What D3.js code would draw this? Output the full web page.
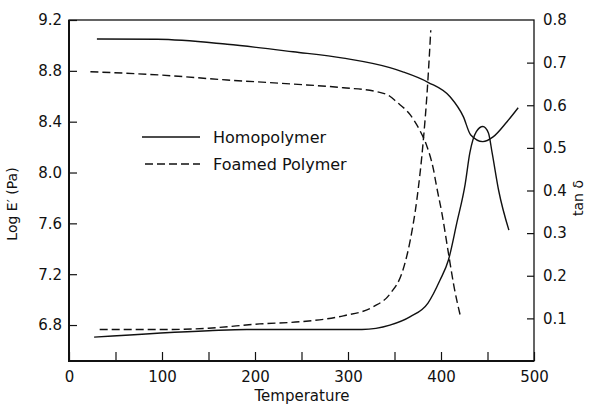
<!DOCTYPE html>
<html>
<head>
<meta charset="utf-8">
<script src="https://cdn.jsdelivr.net/npm/d3@7"></script>
<style>
  body { margin: 0; background: #fff; }
  text { font-family: "DejaVu Sans", sans-serif; fill: #111; }
</style>
</head>
<body>
<div id="chart"></div>
<script>
// valores
const homoT_E = [30, 95, 170, 241, 295, 345, 359, 386, 410, 424, 432, 445, 456, 471, 483];
const homoLogE = [9.05, 9.048, 9.009, 8.95, 8.90, 8.825, 8.792, 8.71, 8.594, 8.44, 8.295, 8.243, 8.28, 8.40, 8.51];

const homoT_tan = [27, 150, 191, 250, 315, 345, 367, 386, 399, 408, 417, 426, 431, 438, 445, 451, 455, 462, 473];
const homoTan = [0.056, 0.071, 0.074, 0.074, 0.074, 0.084, 0.104, 0.136, 0.19, 0.237, 0.324, 0.415, 0.488, 0.538, 0.55, 0.535, 0.488, 0.40, 0.307];

const foamT_E = [23, 98, 170, 241, 295, 331, 345, 352, 367, 377, 385, 392, 395, 401, 408, 414, 421];
const foamLogE = [8.793, 8.767, 8.728, 8.696, 8.667, 8.636, 8.60, 8.557, 8.453, 8.335, 8.203, 8.02, 7.90, 7.679, 7.365, 7.103, 6.866];

const foamT_tan = [33, 109, 150, 205, 248, 295, 327, 345, 359, 367, 374, 381, 385, 389];
const foamTan = [0.074, 0.074, 0.077, 0.087, 0.092, 0.106, 0.127, 0.157, 0.213, 0.284, 0.378, 0.518, 0.628, 0.776];

const xTicks = [0, 50, 100, 150, 200, 250, 300, 350, 400, 450, 500];
const leftTicks = [6.8, 7.2, 7.6, 8.0, 8.4, 8.8, 9.2];
const rightTicks = [0.1, 0.2, 0.3, 0.4, 0.5, 0.6, 0.7, 0.8];
const legendNames = ["Homopolymer", "Foamed Polymer"];

const largura = 589, altura = 405;
const esq = 69, dir = 534, topo = 20, base = 361;

const svg = d3.select("#chart").append("svg")
    .attr("width", largura)
    .attr("height", altura);

const x = d3.scaleLinear().domain([0, 500]).range([esq, dir]);
const yE = d3.scaleLinear().domain([6.517, 9.2]).range([base, topo]);
const yT = d3.scaleLinear().domain([0, 0.8]).range([base, topo]);

// eixos (ticks para dentro)
const gx = svg.append("g")
    .attr("transform", `translate(0,${base})`)
    .call(d3.axisBottom(x).tickValues(xTicks).tickSizeInner(-9).tickSizeOuter(0)
      .tickPadding(10).tickFormat(d => d % 100 === 0 ? d : ""));

const gl = svg.append("g")
    .attr("transform", `translate(${esq},0)`)
    .call(d3.axisLeft(yE).tickValues(leftTicks).tickSizeInner(-8).tickSizeOuter(0)
      .tickPadding(7).tickFormat(d3.format(".1f")));

const gr = svg.append("g")
    .attr("transform", `translate(${dir},0)`)
    .call(d3.axisRight(yT).tickValues(rightTicks).tickSizeInner(-7).tickSizeOuter(0)
      .tickPadding(9).tickFormat(d3.format(".1f")));

[gx, gl, gr].forEach(g => {
  g.select(".domain").remove();
  g.selectAll("line").attr("stroke", "#111").attr("stroke-width", 1.2);
  g.selectAll("text").attr("font-size", 15).attr("font-family", "DejaVu Sans").attr("fill", "#111");
});
gr.selectAll(".tick").filter(d => d === 0.8).select("line").remove();

// moldura
svg.append("rect")
    .attr("x", esq).attr("y", topo)
    .attr("width", dir - esq).attr("height", base - topo)
    .attr("fill", "none").attr("stroke", "#111").attr("stroke-width", 1.3);
svg.append("line").attr("x1", esq).attr("x2", esq).attr("y1", topo).attr("y2", base + 1)
    .attr("stroke", "#111").attr("stroke-width", 2);
svg.append("line").attr("x1", esq).attr("x2", dir).attr("y1", base).attr("y2", base)
    .attr("stroke", "#111").attr("stroke-width", 2);

// curvas
const linhaE = d3.line().x(d => x(d[0])).y(d => yE(d[1])).curve(d3.curveMonotoneX);
const linhaT = d3.line().x(d => x(d[0])).y(d => yT(d[1])).curve(d3.curveMonotoneX);
const tracejado = "8,4";

function desenha(dados, gerador, dash) {
  svg.append("path")
      .datum(dados)
      .attr("d", gerador)
      .attr("fill", "none")
      .attr("stroke", "#111")
      .attr("stroke-width", 1.4)
      .attr("stroke-dasharray", dash);
}

desenha(d3.zip(homoT_E, homoLogE), linhaE, null);
desenha(d3.zip(homoT_tan, homoTan), linhaT, null);
desenha(d3.zip(foamT_E, foamLogE), linhaE, tracejado);
desenha(d3.zip(foamT_tan, foamTan), linhaT, tracejado);

// legenda
const leg = svg.append("g");
legendNames.forEach((nome, i) => {
  const yy = 137 + i * 27;
  leg.append("line")
      .attr("x1", i ? 145 : 142).attr("x2", 200)
      .attr("y1", yy).attr("y2", yy)
      .attr("stroke", "#111").attr("stroke-width", 1.4)
      .attr("stroke-dasharray", i ? tracejado : null);
  leg.append("text")
      .attr("x", 213).attr("y", yy)
      .attr("dy", "0.36em")
      .attr("font-size", 16)
      .text(nome);
});

// títulos dos eixos
svg.append("text")
    .attr("x", 302).attr("y", 401)
    .attr("text-anchor", "middle")
    .attr("font-size", 15)
    .text("Temperature");

svg.append("text")
    .attr("transform", "translate(17,204) rotate(-90)")
    .attr("text-anchor", "middle")
    .attr("font-size", 14)
    .text("Log E\u2032 (Pa)");

svg.append("text")
    .attr("transform", "translate(583,198) rotate(-90)")
    .attr("text-anchor", "middle")
    .attr("font-size", 14)
    .text("tan \u03b4");
</script>
</body>
</html>
